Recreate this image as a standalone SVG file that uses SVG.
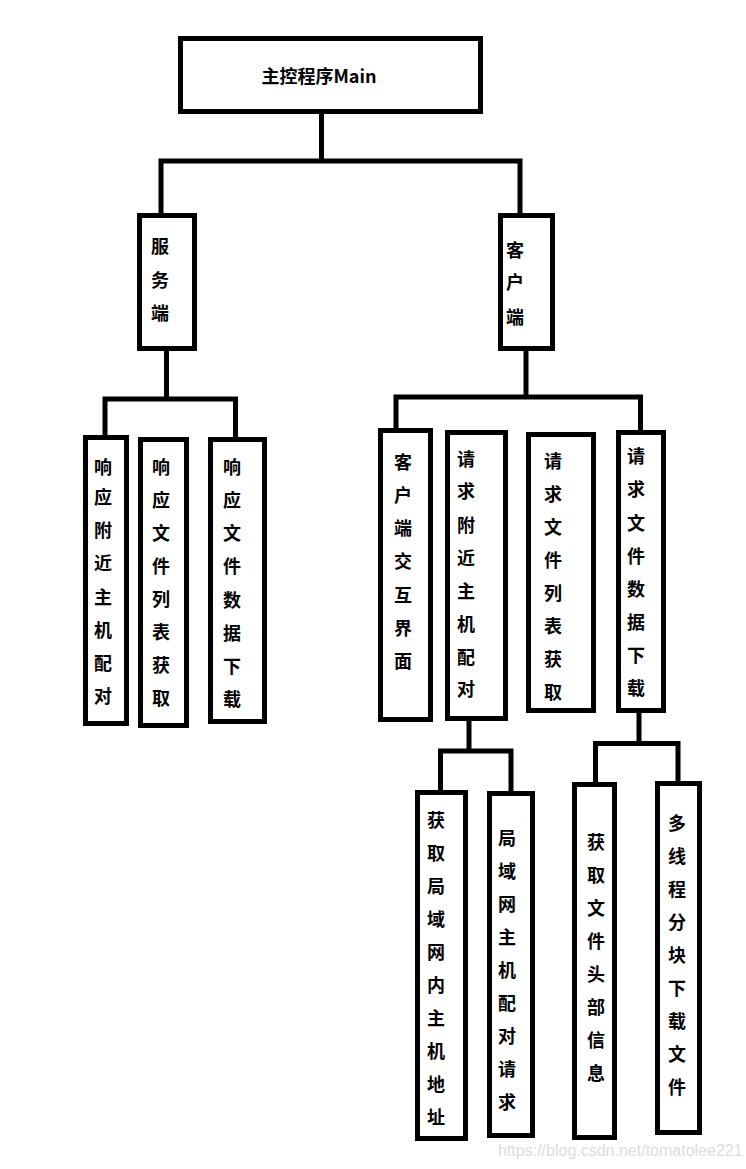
<svg xmlns="http://www.w3.org/2000/svg" width="746" height="1169" viewBox="0 0 746 1169">
<style>
.box{fill:#fff;stroke:#000;stroke-width:5}
.lbl{font-family:"Microsoft YaHei","Noto Sans CJK SC","Noto Sans",sans-serif;font-size:18px;font-weight:bold;fill:#000;text-anchor:middle}
.con{fill:none;stroke:#000;stroke-width:5}
.wm{font-family:"Liberation Sans",Arial,sans-serif;font-size:16px;fill:#dcdcdc}
</style>
<rect width="746" height="1169" fill="#fff"/>
<g id="connectors">
<path class="con" d="M321.5 114V161M161 213V161H520V213"/>
<path class="con" d="M166.5 351V399M105 437V399H235.5V437"/>
<path class="con" d="M526 351V397M396 430V397H640.5V432"/>
<path class="con" d="M469 721V751M440.5 790V751H511V791"/>
<path class="con" d="M639 713V743.5M595.5 782V743.5H678V781"/>
</g>
<g id="main">
<rect class="box" x="180.5" y="38.5" width="300" height="73"/>
<text class="lbl" x="319" y="83">主控程序Main</text>
</g>
<g id="server">
<rect class="box" x="139.5" y="215.5" width="55" height="133"/>
<text class="lbl"><tspan x="160" y="253">服</tspan><tspan x="160" y="287">务</tspan><tspan x="160" y="320">端</tspan></text>
</g>
<g id="client">
<rect class="box" x="500.5" y="215.5" width="52" height="133"/>
<text class="lbl"><tspan x="515" y="257">客</tspan><tspan x="515" y="289">户</tspan><tspan x="515" y="324">端</tspan></text>
</g>
<g id="s1">
<rect class="box" x="85.5" y="437.5" width="41" height="286"/>
<text class="lbl"><tspan x="103" y="474">响</tspan><tspan x="103" y="504">应</tspan><tspan x="103" y="537">附</tspan><tspan x="103" y="570">近</tspan><tspan x="103" y="604">主</tspan><tspan x="103" y="637">机</tspan><tspan x="103" y="670">配</tspan><tspan x="103" y="703">对</tspan></text>
</g>
<g id="s2">
<rect class="box" x="140.5" y="439.5" width="46" height="286"/>
<text class="lbl"><tspan x="161" y="474">响</tspan><tspan x="161" y="507">应</tspan><tspan x="161" y="540">文</tspan><tspan x="161" y="573">件</tspan><tspan x="161" y="606">列</tspan><tspan x="161" y="639">表</tspan><tspan x="161" y="672">获</tspan><tspan x="161" y="705">取</tspan></text>
</g>
<g id="s3">
<rect class="box" x="210.5" y="439.5" width="54" height="282"/>
<text class="lbl"><tspan x="232" y="474">响</tspan><tspan x="232" y="507">应</tspan><tspan x="232" y="540">文</tspan><tspan x="232" y="573">件</tspan><tspan x="232" y="607">数</tspan><tspan x="232" y="640">据</tspan><tspan x="232" y="673">下</tspan><tspan x="232" y="706">载</tspan></text>
</g>
<g id="c1">
<rect class="box" x="380.5" y="430.5" width="50" height="289"/>
<text class="lbl"><tspan x="403" y="469">客</tspan><tspan x="403" y="502">户</tspan><tspan x="403" y="535">端</tspan><tspan x="403" y="568">交</tspan><tspan x="403" y="602">互</tspan><tspan x="403" y="635">界</tspan><tspan x="403" y="668">面</tspan></text>
</g>
<g id="c2">
<rect class="box" x="447.5" y="432.5" width="58" height="286"/>
<text class="lbl"><tspan x="466" y="466">请</tspan><tspan x="466" y="498">求</tspan><tspan x="466" y="532">附</tspan><tspan x="466" y="565">近</tspan><tspan x="466" y="598">主</tspan><tspan x="466" y="631">机</tspan><tspan x="466" y="664">配</tspan><tspan x="466" y="696">对</tspan></text>
</g>
<g id="c3">
<rect class="box" x="528.5" y="434.5" width="65" height="276"/>
<text class="lbl"><tspan x="553" y="468">请</tspan><tspan x="553" y="501">求</tspan><tspan x="553" y="534">文</tspan><tspan x="553" y="567">件</tspan><tspan x="553" y="600">列</tspan><tspan x="553" y="633">表</tspan><tspan x="553" y="666">获</tspan><tspan x="553" y="699">取</tspan></text>
</g>
<g id="c4">
<rect class="box" x="618.5" y="432.5" width="45" height="278"/>
<text class="lbl"><tspan x="636" y="463">请</tspan><tspan x="636" y="496">求</tspan><tspan x="636" y="530">文</tspan><tspan x="636" y="563">件</tspan><tspan x="636" y="596">数</tspan><tspan x="636" y="629">据</tspan><tspan x="636" y="662">下</tspan><tspan x="636" y="695">载</tspan></text>
</g>
<g id="g1">
<rect class="box" x="417.5" y="792.5" width="48" height="346"/>
<text class="lbl"><tspan x="436" y="827">获</tspan><tspan x="436" y="860">取</tspan><tspan x="436" y="893">局</tspan><tspan x="436" y="926">域</tspan><tspan x="436" y="959">网</tspan><tspan x="436" y="992">内</tspan><tspan x="436" y="1025">主</tspan><tspan x="436" y="1058">机</tspan><tspan x="436" y="1091">地</tspan><tspan x="436" y="1124">址</tspan></text>
</g>
<g id="g2">
<rect class="box" x="489.5" y="793.5" width="43" height="342"/>
<text class="lbl"><tspan x="507" y="845">局</tspan><tspan x="507" y="878">域</tspan><tspan x="507" y="911">网</tspan><tspan x="507" y="944">主</tspan><tspan x="507" y="977">机</tspan><tspan x="507" y="1010">配</tspan><tspan x="507" y="1043">对</tspan><tspan x="507" y="1076">请</tspan><tspan x="507" y="1109">求</tspan></text>
</g>
<g id="g3">
<rect class="box" x="574.5" y="784.5" width="40" height="353"/>
<text class="lbl"><tspan x="596" y="849">获</tspan><tspan x="596" y="882">取</tspan><tspan x="596" y="915">文</tspan><tspan x="596" y="948">件</tspan><tspan x="596" y="981">头</tspan><tspan x="596" y="1014">部</tspan><tspan x="596" y="1047">信</tspan><tspan x="596" y="1080">息</tspan></text>
</g>
<g id="g4">
<rect class="box" x="657.5" y="783.5" width="42" height="349"/>
<text class="lbl"><tspan x="677" y="830">多</tspan><tspan x="677" y="863">线</tspan><tspan x="677" y="896">程</tspan><tspan x="677" y="929">分</tspan><tspan x="677" y="962">块</tspan><tspan x="677" y="995">下</tspan><tspan x="677" y="1028">载</tspan><tspan x="677" y="1061">文</tspan><tspan x="677" y="1094">件</tspan></text>
</g>
<text class="wm" x="498" y="1156">https://blog.csdn.net/tomatolee221</text>
</svg>
